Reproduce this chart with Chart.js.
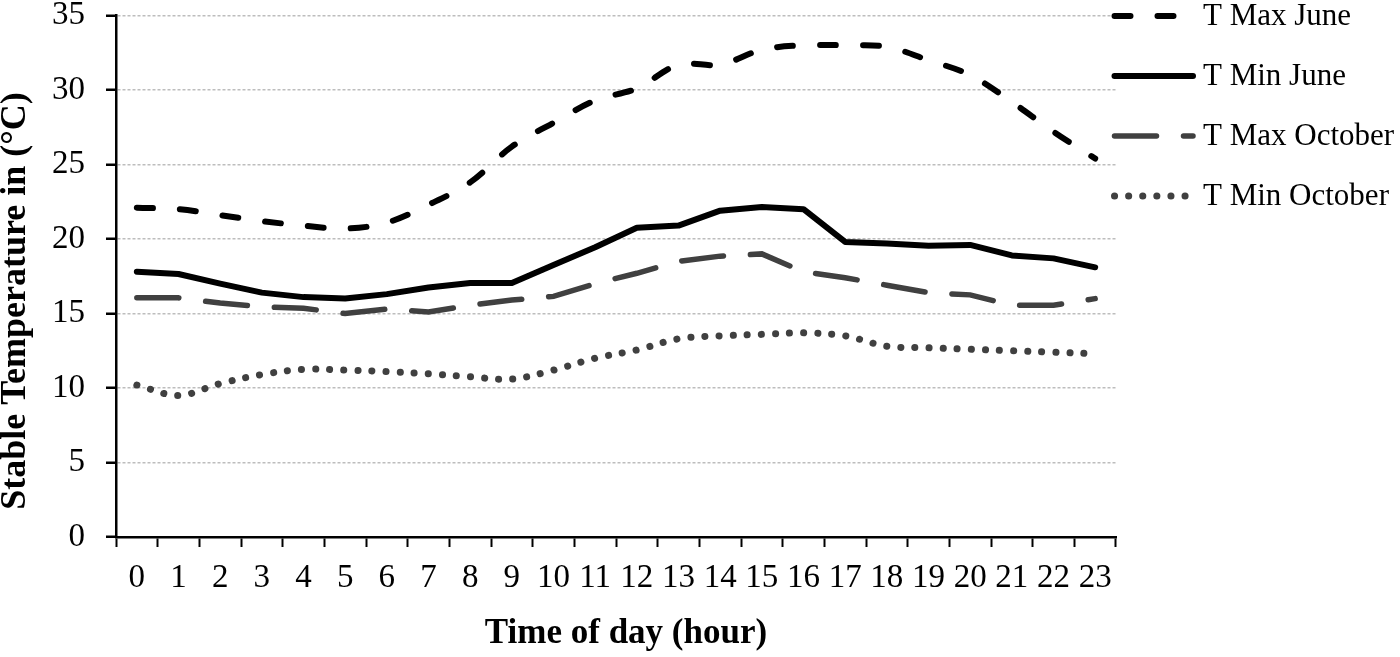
<!DOCTYPE html>
<html lang="en">
<head>
    <meta charset="UTF-8">
    <title>Stable Temperature</title>
    <script src="https://cdn.jsdelivr.net/npm/chart.js"></script>
    <style>
        body { margin: 0; background: #fff; }
        #wrap { width: 1400px; height: 657px; position: relative; }
    </style>
</head>
<body>
    <div id="wrap"><canvas id="tempChart"></canvas></div>

    <script>
        const hours = ['0', '1', '2', '3', '4', '5', '6', '7', '8', '9', '10', '11',
                       '12', '13', '14', '15', '16', '17', '18', '19', '20', '21', '22', '23'];

        const tMaxJune = [22.1, 22.0, 21.6, 21.2, 20.9, 20.7, 21.1, 22.3, 23.8, 26.2, 27.8, 29.3,
                          30.1, 31.7, 31.7, 32.7, 33.0, 33.0, 32.9, 32.0, 31.0, 29.2, 27.2, 25.4];
        const tMinJune = [17.8, 17.65, 17.0, 16.4, 16.1, 16.0, 16.3, 16.75, 17.05, 17.05, 18.25, 19.45,
                          20.75, 20.9, 21.9, 22.15, 22.0, 19.8, 19.7, 19.55, 19.6, 18.9, 18.7, 18.1];
        const tMaxOct = [16.05, 16.05, 15.7, 15.45, 15.35, 15.0, 15.3, 15.1, 15.55, 15.9, 16.15, 17.0,
                         17.7, 18.5, 18.85, 19.0, 17.8, 17.4, 16.9, 16.4, 16.25, 15.55, 15.55, 16.0];
        const tMinOct = [10.2, 9.5, 10.3, 10.9, 11.25, 11.2, 11.1, 10.95, 10.75, 10.6, 11.2, 12.0,
                         12.55, 13.3, 13.5, 13.6, 13.7, 13.5, 12.8, 12.7, 12.6, 12.5, 12.4, 12.3];

        const serif = '"Liberation Serif", "Times New Roman", serif';

        // legend drawn on the right, lines + labels
        const sideLegend = {
            id: 'sideLegend',
            afterDraw(chart) {
                const ctx = chart.ctx;
                chart.data.datasets.forEach((ds, i) => {
                    const y = 16 + i * 60;
                    ctx.save();
                    ctx.strokeStyle = ds.borderColor;
                    ctx.lineWidth = ds.borderWidth;
                    ctx.lineCap = 'round';
                    ctx.setLineDash(ds.borderDash || []);
                    ctx.beginPath();
                    ctx.moveTo(1114.5, y);
                    ctx.lineTo(1193, y);
                    ctx.stroke();
                    ctx.restore();

                    ctx.save();
                    ctx.fillStyle = '#000';
                    ctx.font = '31px ' + serif;
                    ctx.textBaseline = 'middle';
                    ctx.fillText(ds.label, 1203, y + 1);
                    ctx.restore();
                });
            }
        };

        // axis titles placed by hand
        const axisTitles = {
            id: 'axisTitles',
            afterDraw(chart) {
                const ctx = chart.ctx;
                ctx.save();
                ctx.fillStyle = '#000';
                ctx.textAlign = 'center';
                ctx.textBaseline = 'middle';
                ctx.font = 'bold 35px ' + serif;
                ctx.fillText('Time of day (hour)', 626, 634);
                ctx.font = 'bold 36px ' + serif;
                ctx.translate(16, 301);
                ctx.rotate(-Math.PI / 2);
                ctx.fillText('Stable Temperature in (°C)', 0, 0);
                ctx.restore();
            }
        };

        const ctx = document.getElementById('tempChart').getContext('2d');
        new Chart(ctx, {
            type: 'line',
            data: {
                labels: hours,
                datasets: [
                    {
                        label: 'T Max June',
                        data: tMaxJune,
                        borderColor: '#000',
                        borderWidth: 6,
                        borderDash: [16, 27],
                        borderCapStyle: 'round',
                        tension: 0.35
                    },
                    {
                        label: 'T Min June',
                        data: tMinJune,
                        borderColor: '#000',
                        borderWidth: 6,
                        borderCapStyle: 'round',
                        borderJoinStyle: 'round',
                        tension: 0
                    },
                    {
                        label: 'T Max October',
                        data: tMaxOct,
                        borderColor: '#404040',
                        borderWidth: 5.5,
                        borderDash: [42, 27],
                        borderCapStyle: 'round',
                        tension: 0
                    },
                    {
                        label: 'T Min October',
                        data: tMinOct,
                        borderColor: '#404040',
                        borderWidth: 7,
                        borderDash: [0.1, 14],
                        borderCapStyle: 'round',
                        tension: 0.35
                    }
                ]
            },
            options: {
                responsive: true,
                maintainAspectRatio: false,
                animation: false,
                layout: { padding: { top: 15.5, right: 284, left: 0, bottom: 0 } },
                elements: { point: { radius: 0, hoverRadius: 0 } },
                plugins: {
                    legend: { display: false },
                    tooltip: { enabled: false }
                },
                scales: {
                    x: {
                        offset: true,
                        grid: {
                            offset: true,
                            drawOnChartArea: false,
                            drawTicks: true,
                            tickLength: 10,
                            tickColor: '#000',
                            tickWidth: 2
                        },
                        border: { display: true, color: '#000', width: 2.5 },
                        ticks: {
                            color: '#000',
                            font: { family: serif, size: 33 },
                            padding: 12,
                            maxRotation: 0,
                            autoSkip: false
                        },
                        afterFit: scale => {
                            scale.height = 120;
                            scale.paddingLeft = 0;
                            scale.paddingRight = 0;
                        }
                    },
                    y: {
                        min: 0,
                        max: 35,
                        ticks: {
                            stepSize: 5,
                            color: '#000',
                            font: { family: serif, size: 33, lineHeight: 1 },
                            padding: 21
                        },
                        grid: {
                            color: c => c.tick && c.tick.value === 0 ? 'rgba(0,0,0,0)' : '#bdbdbd',
                            lineWidth: 1.5,
                            drawTicks: true,
                            tickLength: 10,
                            tickColor: '#000',
                            tickWidth: 2.5
                        },
                        border: { display: true, color: '#000', width: 2.5, dash: [3, 2] },
                        afterFit: scale => {
                            scale.width = 116;
                            scale.paddingTop = 0;
                            scale.paddingBottom = 0;
                        }
                    }
                }
            },
            plugins: [sideLegend, axisTitles]
        });
    </script>
</body>
</html>
